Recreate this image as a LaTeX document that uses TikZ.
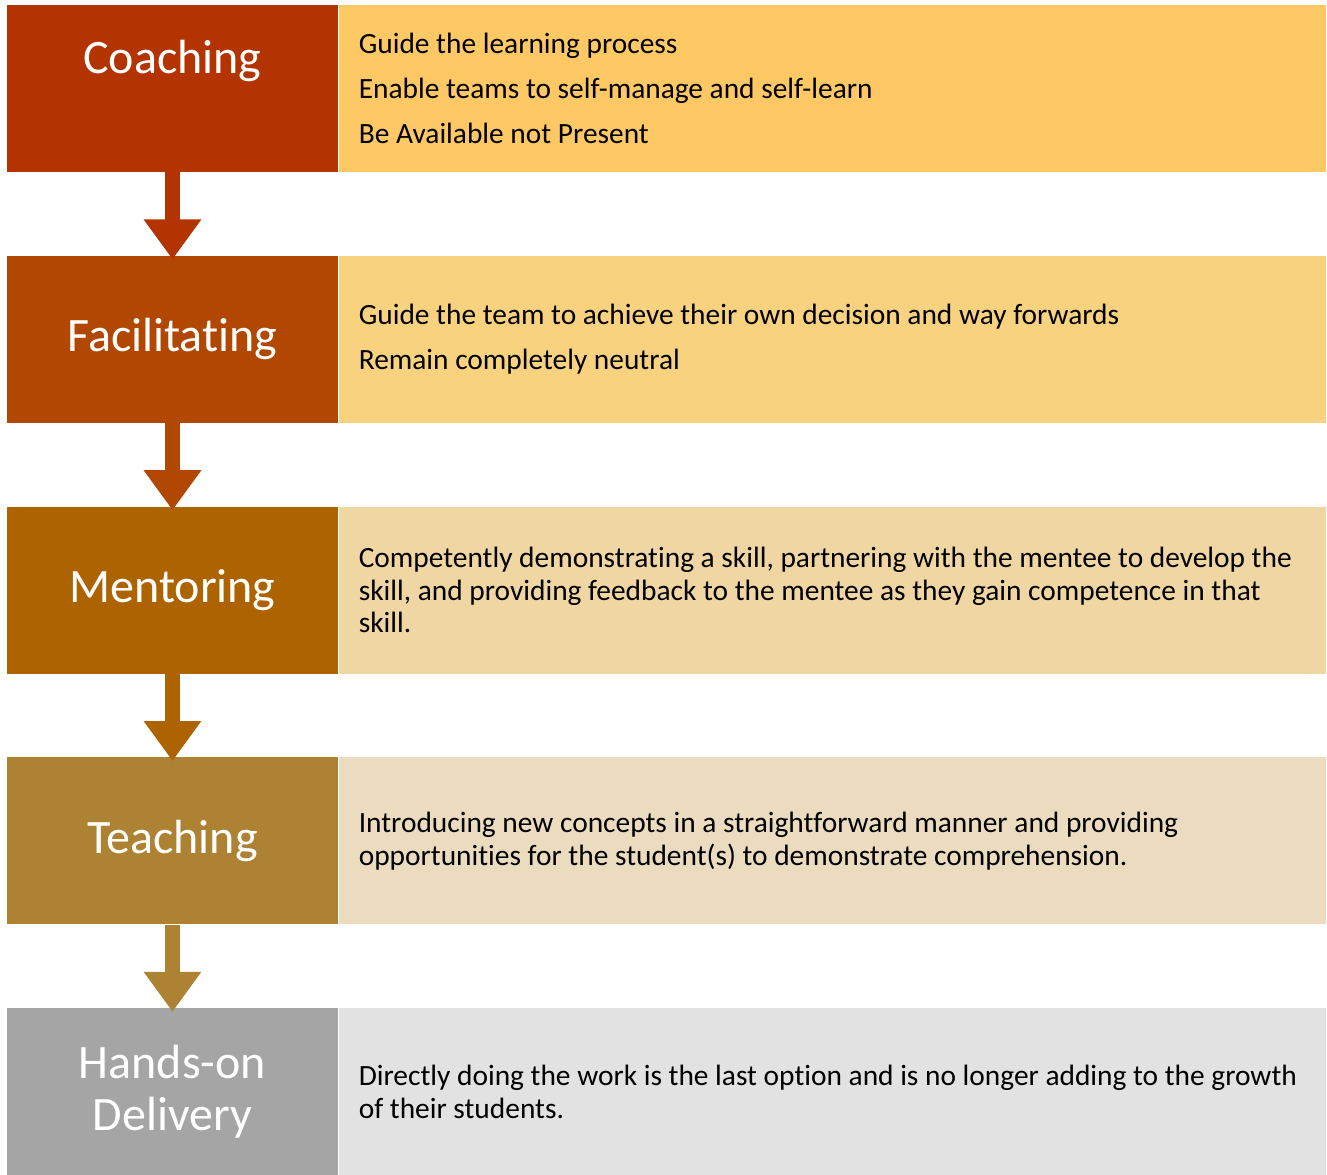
\documentclass[tikz,border=0pt]{standalone}
\usepackage{fontspec}
\setmainfont{Carlito}[Ligatures=NoCommon]
\usetikzlibrary{positioning,arrows.meta}
\definecolor{coachred}{HTML}{B33400}
\definecolor{facilred}{HTML}{B14700}
\definecolor{mentorbrown}{HTML}{AD6400}
\definecolor{teachgold}{HTML}{AD8232}
\definecolor{handsgrey}{HTML}{A5A5A5}
\definecolor{coachlight}{HTML}{FEC864}
\definecolor{faciltlight}{HTML}{F9D280}
\definecolor{mentorlight}{HTML}{F0D6A2}
\definecolor{teachlight}{HTML}{EBDCC0}
\definecolor{handslight}{HTML}{E2E2E2}
\tikzset{
  stage/.style={minimum width=165.5pt, minimum height=83.5pt, inner sep=0pt,
    text=white, align=center, font=\fontsize{24}{26}\selectfont},
  info/.style={minimum width=493.5pt, minimum height=83.5pt, inner xsep=10pt,
    inner ysep=0pt, text width=473.5pt, align=flush left,
    font=\fontsize{14.7}{16.25}\selectfont},
  flow/.style={line width=7.5pt, -{Triangle[width=27.5pt,length=20pt]}},
}
\begin{document}
\begin{tikzpicture}[x=0.5pt,y=-0.5pt]
\useasboundingbox (0,0) rectangle (1327,1174);
% left column
\node[stage, fill=coachred, text depth=32pt] (coach) at (172.5,88.5) {Coaching};
\node[stage, fill=facilred, below=41.5pt of coach] (facil) {Facilitating};
\node[stage, fill=mentorbrown, below=41.5pt of facil] (mentor) {Mentoring};
\node[stage, fill=teachgold, below=41.5pt of mentor] (teach) {Teaching};
\node[stage, fill=handsgrey, below=41.5pt of teach] (hands) {Hands-on\\Delivery};
% right column
\node[info, fill=coachlight, right=0pt of coach] (coachtxt) {Guide the learning process\\[6.25pt]
  Enable teams to self-manage and self-learn\\[6.25pt]
  Be Available not Present};
\node[info, fill=faciltlight, right=0pt of facil] (faciltxt) {Guide the team to achieve their own decision and way forwards\\[6.25pt]
  Remain completely neutral};
\node[info, fill=mentorlight, right=0pt of mentor] (mentortxt) {Competently demonstrating a skill, partnering with the mentee to develop the\\
  skill, and providing feedback to the mentee as they gain competence in that\\
  skill.};
\node[info, fill=teachlight, right=0pt of teach] (teachtxt) {Introducing new concepts in a straightforward manner and providing\\
  opportunities for the student(s) to demonstrate comprehension.};
\node[info, fill=handslight, right=0pt of hands] (handstxt) {Directly doing the work is the last option and is no longer adding to the growth\\
  of their students.};
% arrows
\draw[flow, draw=coachred] (coach.south) -- ([yshift=-2pt]facil.north);
\draw[flow, draw=facilred] (facil.south) -- ([yshift=-2pt]mentor.north);
\draw[flow, draw=mentorbrown] (mentor.south) -- ([yshift=-2pt]teach.north);
\draw[flow, draw=teachgold] (teach.south) -- ([yshift=-2pt]hands.north);
\end{tikzpicture}
\end{document}
